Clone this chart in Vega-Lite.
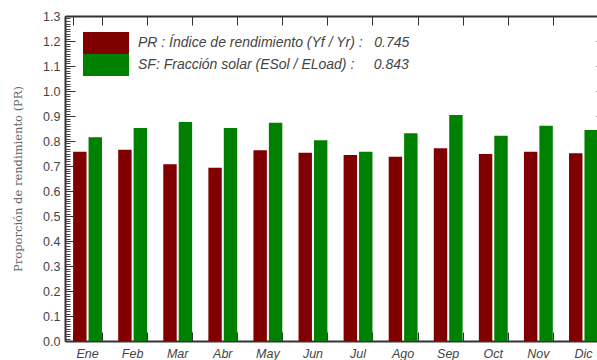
{
  "$schema": "https://vega.github.io/schema/vega-lite/v6.json",
  "width": 532,
  "height": 325,
  "autosize": "none",
  "padding": {"left": 65, "top": 16, "right": 0, "bottom": 19},
  "background": "white",
  "config": {"view": {"stroke": null}},
  "data": {"values": [
    {"month": "Ene", "series": "PR", "value": 0.757}, {"month": "Ene", "series": "SF", "value": 0.815},
    {"month": "Feb", "series": "PR", "value": 0.765}, {"month": "Feb", "series": "SF", "value": 0.852},
    {"month": "Mar", "series": "PR", "value": 0.707}, {"month": "Mar", "series": "SF", "value": 0.876},
    {"month": "Abr", "series": "PR", "value": 0.693}, {"month": "Abr", "series": "SF", "value": 0.852},
    {"month": "May", "series": "PR", "value": 0.763}, {"month": "May", "series": "SF", "value": 0.873},
    {"month": "Jun", "series": "PR", "value": 0.753}, {"month": "Jun", "series": "SF", "value": 0.803},
    {"month": "Jul", "series": "PR", "value": 0.744}, {"month": "Jul", "series": "SF", "value": 0.757},
    {"month": "Ago", "series": "PR", "value": 0.737}, {"month": "Ago", "series": "SF", "value": 0.831},
    {"month": "Sep", "series": "PR", "value": 0.771}, {"month": "Sep", "series": "SF", "value": 0.904},
    {"month": "Oct", "series": "PR", "value": 0.748}, {"month": "Oct", "series": "SF", "value": 0.821},
    {"month": "Nov", "series": "PR", "value": 0.757}, {"month": "Nov", "series": "SF", "value": 0.861},
    {"month": "Dic", "series": "PR", "value": 0.751}, {"month": "Dic", "series": "SF", "value": 0.844}
  ]},
  "layer": [
    {
      "mark": {"type": "bar"},
      "encoding": {
        "x": {"field": "month", "type": "nominal",
          "sort": ["Ene","Feb","Mar","Abr","May","Jun","Jul","Ago","Sep","Oct","Nov","Dic"],
          "scale": {"range": [0, 541], "paddingInner": 0.36, "paddingOuter": 0.18},
          "axis": {"orient": "bottom", "title": null, "labelAngle": 0, "ticks": false,
            "domainColor": "#333", "domainWidth": 2, "labelFont": "Liberation Sans",
            "labelFontStyle": "italic", "labelFontSize": 12.5, "labelColor": "#444", "labelPadding": 6, "grid": false}},
        "xOffset": {"field": "series", "type": "nominal", "scale": {"paddingInner": 0.13, "paddingOuter": 0}},
        "y": {"field": "value", "type": "quantitative",
          "scale": {"domain": [0, 1.3], "nice": false},
          "axis": {"orient": "left", "values": [0,0.1,0.2,0.3,0.4,0.5,0.6,0.7,0.8,0.9,1.0,1.1,1.2,1.3], "format": ".1f",
            "ticks": false, "domainColor": "#333", "domainWidth": 2, "grid": false,
            "labelFont": "Liberation Sans", "labelFontSize": 12.5, "labelColor": "#444", "labelPadding": 5,
            "title": "Proporción de rendimiento (PR)", "titleFont": "DejaVu Serif", "titleFontSize": 11.5,
            "titleFontWeight": "normal", "titleColor": "#666", "titlePadding": 19}},
        "color": {"field": "series", "type": "nominal",
          "scale": {"domain": ["PR", "SF"], "range": ["#800000", "#008000"]},
          "legend": {"orient": "none", "legendX": 30, "legendY": 16, "title": null, "padding": 0,
            "symbolType": "M-2.09,-1H2.09V1H-2.09Z", "symbolSize": 484, "symbolStrokeWidth": 0, "symbolOpacity": 1,
            "rowPadding": 0, "labelOffset": 21,
            "labelExpr": "datum.value == 'PR' ? 'PR : Índice de rendimiento (Yf / Yr) :\u00a0\u00a0\u00a00.745' : 'SF: Fracción solar (ESol / ELoad) :\u00a0\u00a0\u00a0\u00a0\u00a00.843'",
            "labelFont": "Liberation Sans", "labelFontStyle": "italic", "labelFontSize": 14, "labelColor": "#444",
            "labelLimit": 400}}
      }
    },
    {
      "mark": {"type": "bar", "opacity": 0},
      "encoding": {
        "x": {"field": "month", "type": "nominal",
          "sort": ["Ene","Feb","Mar","Abr","May","Jun","Jul","Ago","Sep","Oct","Nov","Dic"],
          "axis": {"orient": "top", "title": null, "labels": false, "tickBand": "extent", "tickSize": -9,
            "tickColor": "#333", "domainColor": "#333", "domainWidth": 2, "grid": false}},
        "y": {"field": "value", "type": "quantitative",
          "axis": {"orient": "right", "offset": 9, "values": [0,0.1,0.2,0.3,0.4,0.5,0.6,0.7,0.8,0.9,1.0,1.1,1.2,1.3],
            "labels": false, "tickSize": -10, "tickColor": "#333", "domainColor": "#333", "domainWidth": 2,
            "title": null, "grid": false}}
      }
    },
    {
      "mark": {"type": "bar", "opacity": 0},
      "encoding": {
        "x": {"field": "month", "type": "nominal",
          "sort": ["Ene","Feb","Mar","Abr","May","Jun","Jul","Ago","Sep","Oct","Nov","Dic"],
          "axis": {"orient": "bottom", "title": null, "labels": false, "domain": false, "tickBand": "extent", "tickSize": -9,
            "tickColor": "#333", "grid": false}},
        "y": {"field": "value", "type": "quantitative",
          "axis": {"orient": "left", "values": [0,0.01,0.02,0.03,0.04,0.05,0.06,0.07,0.08,0.09,0.1,0.11,0.12,0.13,0.14,0.15,0.16,0.17,0.18,0.19,0.2,0.21,0.22,0.23,0.24,0.25,0.26,0.27,0.28,0.29,0.3,0.31,0.32,0.33,0.34,0.35,0.36,0.37,0.38,0.39,0.4,0.41,0.42,0.43,0.44,0.45,0.46,0.47,0.48,0.49,0.5,0.51,0.52,0.53,0.54,0.55,0.56,0.57,0.58,0.59,0.6,0.61,0.62,0.63,0.64,0.65,0.66,0.67,0.68,0.69,0.7,0.71,0.72,0.73,0.74,0.75,0.76,0.77,0.78,0.79,0.8,0.81,0.82,0.83,0.84,0.85,0.86,0.87,0.88,0.89,0.9,0.91,0.92,0.93,0.94,0.95,0.96,0.97,0.98,0.99,1.0,1.01,1.02,1.03,1.04,1.05,1.06,1.07,1.08,1.09,1.1,1.11,1.12,1.13,1.14,1.15,1.16,1.17,1.18,1.19,1.2,1.21,1.22,1.23,1.24,1.25,1.26,1.27,1.28,1.29,1.3],
            "labels": false, "domain": false, "tickSize": -5, "tickColor": "#444", "title": null, "grid": false}}
      }
    },
    {
      "mark": {"type": "bar", "opacity": 0},
      "encoding": {
        "x": {"field": "month", "type": "nominal",
          "sort": ["Ene","Feb","Mar","Abr","May","Jun","Jul","Ago","Sep","Oct","Nov","Dic"], "axis": null},
        "y": {"field": "value", "type": "quantitative",
          "axis": {"orient": "left", "values": [0,0.1,0.2,0.3,0.4,0.5,0.6,0.7,0.8,0.9,1.0,1.1,1.2,1.3],
            "labels": false, "domain": false, "tickSize": -10, "tickColor": "#333", "title": null, "grid": false}}
      }
    }
  ],
  "resolve": {"axis": {"x": "independent", "y": "independent"}}
}
